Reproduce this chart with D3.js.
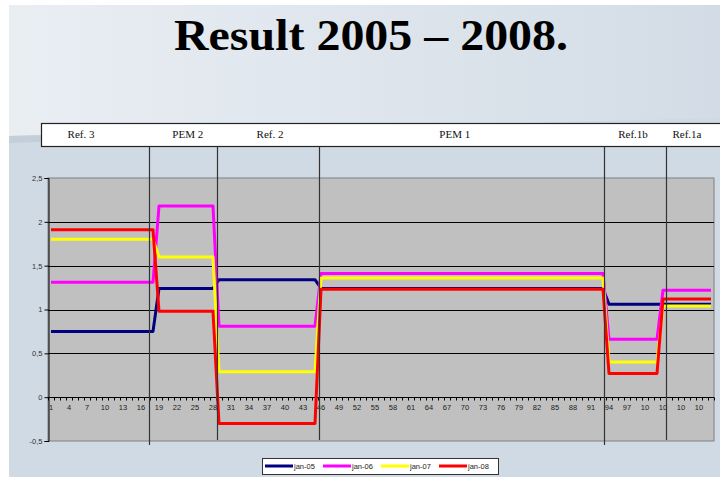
<!DOCTYPE html>
<html>
<head>
<meta charset="utf-8">
<script src="https://cdn.jsdelivr.net/npm/d3@7/dist/d3.min.js"></script>
<style>
  body { margin: 0; padding: 0; background: #fff; }
  svg { display: block; }
</style>
</head>
<body>
<div id="chart"></div>
<script>
// categories 1..111 on the x axis
var categories = d3.range(1, 112);

// period groups shown in the header band, first category of each
var groups = ['Ref. 3', 'PEM 2', 'Ref. 2', 'PEM 1', 'Ref.1b', 'Ref.1a'];
var groupStart = [1, 19, 29, 46, 94, 103];
var groupLabelAt = [6, 23.8, 37.5, 68.3, 98, 107];
var dividers = [17.33, 28.67, 45.67, 93.17, 103.5];

// value of each series per group (steps)
var seriesNames = ['jan-05', 'jan-06', 'jan-07', 'jan-08'];
var jan05 = [0.75, 1.24, 1.34, 1.24, 1.06, 1.06];
var jan06 = [1.31, 2.18, 0.81, 1.41, 0.66, 1.22];
var jan07 = [1.80, 1.60, 0.29, 1.36, 0.40, 1.04];
var jan08 = [1.91, 0.98, -0.30, 1.23, 0.27, 1.12];
var seriesColors = ['#000080', '#ff00ff', '#ffff00', '#ff0000'];

var yTicks = [-0.5, 0, 0.5, 1, 1.5, 2, 2.5];

function init(args) {
    'use strict';
    var width = 720, height = 477;
    var plot = { left: 48, right: 714, top: 178, bottom: 441 };

    var svg = d3.select(args.target)
        .append('svg')
            .attr('width', width)
            .attr('height', height);

    // slide background
    var defs = svg.append('defs');
    var grad = defs.append('linearGradient')
        .attr('id', 'topGrad')
        .attr('x1', '0%').attr('x2', '100%').attr('y1', '0%').attr('y2', '0%');
    grad.append('stop').attr('offset', '0%').attr('stop-color', '#e9eef3');
    grad.append('stop').attr('offset', '100%').attr('stop-color', '#d3dce6');

    svg.append('rect')
        .attr('x', 9).attr('y', 5)
        .attr('width', width - 9).attr('height', height - 5)
        .attr('fill', '#d0dae4');
    svg.append('path')
        .attr('d', 'M9,5 L720,5 L720,118 L9,136 Z')
        .attr('fill', 'url(#topGrad)');
    svg.append('path')
        .attr('d', 'M9,136 L300,128 L300,133 L9,143 Z')
        .attr('fill', '#c4ced9');

    // title
    svg.append('text')
        .attr('x', 371)
        .attr('y', 50)
        .attr('text-anchor', 'middle')
        .attr('font-family', '"Liberation Serif", "Times New Roman", serif')
        .attr('font-weight', 'bold')
        .attr('font-size', 44)
        .attr('textLength', 394)
        .attr('lengthAdjust', 'spacingAndGlyphs')
        .text('Result 2005 \u2013 2008.');

    var x = d3.scaleLinear()
        .domain([0.5, categories.length + 0.5])
        .range([plot.left, plot.right]);
    var y = d3.scaleLinear()
        .domain([-0.5, 2.5])
        .range([plot.bottom, plot.top]);

    // plot area
    svg.append('rect')
        .attr('x', plot.left).attr('y', plot.top)
        .attr('width', plot.right - plot.left)
        .attr('height', plot.bottom - plot.top)
        .attr('fill', '#c0c0c0')
        .attr('stroke', '#808080')
        .attr('stroke-width', 1);

    // gridlines
    svg.append('g')
        .selectAll('line')
        .data(yTicks.filter(function(d) { return d > 0 && d < 2.5; }))
        .enter().append('line')
            .attr('x1', plot.left).attr('x2', plot.right)
            .attr('y1', function(d) { return Math.round(y(d)) + 0.5; })
            .attr('y2', function(d) { return Math.round(y(d)) + 0.5; })
            .attr('stroke', '#000')
            .attr('stroke-width', 1);

    // y axis
    var yAxis = d3.axisLeft(y)
        .tickValues(yTicks)
        .tickSize(4)
        .tickFormat(function(d) { return String(d).replace('.', ','); });
    var ya = svg.append('g')
        .attr('transform', 'translate(' + (plot.left + 0.5) + ',0)')
        .call(yAxis);
    ya.select('.domain').attr('stroke', '#000');
    ya.selectAll('.tick line').attr('stroke', '#000');
    ya.selectAll('.tick text')
        .attr('font-family', '"Liberation Sans", Arial, sans-serif')
        .attr('font-size', 7.5)
        .attr('fill', '#333')
        .attr('x', -6);

    // x axis at zero, ticks between categories
    var y0 = Math.round(y(0)) + 0.5;
    var xg = svg.append('g');
    xg.append('line')
        .attr('x1', plot.left).attr('x2', plot.right)
        .attr('y1', y0).attr('y2', y0)
        .attr('stroke', '#000');
    xg.selectAll('line.tk')
        .data(d3.range(0, categories.length + 1))
        .enter().append('line')
            .attr('class', 'tk')
            .attr('x1', function(d) { return Math.round(x(d + 0.5)) + 0.5; })
            .attr('x2', function(d) { return Math.round(x(d + 0.5)) + 0.5; })
            .attr('y1', y0).attr('y2', y0 + 3)
            .attr('stroke', '#000');
    xg.selectAll('text')
        .data(categories.filter(function(d) { return (d - 1) % 3 === 0; }))
        .enter().append('text')
            .attr('x', function(d) { return x(d); })
            .attr('y', y0 + 12)
            .attr('text-anchor', 'middle')
            .attr('font-family', '"Liberation Sans", Arial, sans-serif')
            .attr('font-size', 7.5)
            .attr('fill', '#222')
            .text(function(d) { return String(d).slice(0, 2); });

    // header band
    svg.append('rect')
        .attr('x', 41.5).attr('y', 123.5)
        .attr('width', 700).attr('height', 23)
        .attr('fill', '#fff')
        .attr('stroke', '#222')
        .attr('stroke-width', 1.2);
    svg.append('g')
        .selectAll('text')
        .data(groups)
        .enter().append('text')
            .attr('x', function(d, i) { return x(groupLabelAt[i]); })
            .attr('y', 138)
            .attr('text-anchor', 'middle')
            .attr('font-family', '"Liberation Serif", "Times New Roman", serif')
            .attr('font-size', 11)
            .attr('fill', '#111')
            .text(function(d) { return d; });

    // lines, one per series
    var valuesBySeries = [jan05, jan06, jan07, jan08];
    function groupOf(c) {
        var g = 0;
        for (var i = 0; i < groupStart.length; i++) {
            if (c >= groupStart[i]) { g = i; }
        }
        return g;
    }
    var line = d3.line()
        .x(function(d) { return x(d.c); })
        .y(function(d) { return y(d.v); });

    svg.append('g')
        .selectAll('path')
        .data(valuesBySeries)
        .enter().append('path')
            .attr('d', function(vals) {
                return line(categories.map(function(c) {
                    return { c: c, v: vals[groupOf(c)] };
                }));
            })
            .attr('fill', 'none')
            .attr('stroke', function(d, i) { return seriesColors[i]; })
            .attr('stroke-width', 3)
            .attr('stroke-linejoin', 'round');

    // dividers between periods
    svg.append('g')
        .selectAll('line')
        .data(dividers)
        .enter().append('line')
            .attr('x1', function(d) { return Math.round(x(d)) + 0.5; })
            .attr('x2', function(d) { return Math.round(x(d)) + 0.5; })
            .attr('y1', 147)
            .attr('y2', function(d, i) { return (i === 0 || i === 3) ? 445 : 440; })
            .attr('stroke', '#333')
            .attr('stroke-width', 1.2);

    // legend
    var lg = svg.append('g').attr('transform', 'translate(262,458)');
    lg.append('rect')
        .attr('x', 0.5).attr('y', 0.5)
        .attr('width', 236).attr('height', 16)
        .attr('fill', '#fff')
        .attr('stroke', '#333');
    var item = lg.selectAll('g.item')
        .data(seriesNames)
        .enter().append('g')
            .attr('class', 'item')
            .attr('transform', function(d, i) { return 'translate(' + (3 + i * 58) + ',8)'; });
    item.append('line')
        .attr('x1', 0).attr('x2', 28)
        .attr('y1', 0).attr('y2', 0)
        .attr('stroke', function(d, i) { return seriesColors[i]; })
        .attr('stroke-width', 3);
    item.append('text')
        .attr('x', 29)
        .attr('y', 3)
        .attr('font-family', '"Liberation Sans", Arial, sans-serif')
        .attr('font-size', 7.5)
        .attr('fill', '#222')
        .text(function(d) { return d; });

    return this;
}

init({ target: '#chart' });
</script>
</body>
</html>
